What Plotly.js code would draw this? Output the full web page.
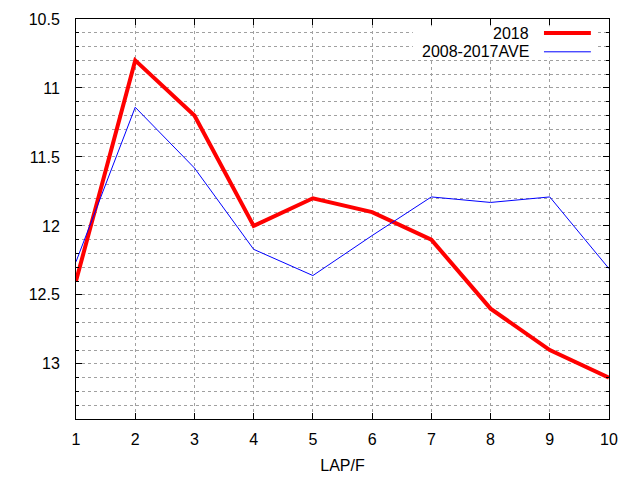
<!DOCTYPE html>
<html>
<head>
<meta charset="utf-8">
<script src="https://cdn.plot.ly/plotly-3.0.1.min.js"></script>
<style>
  body { margin: 0; background: #fff; }
  #chart { width: 640px; height: 480px; }
</style>
</head>
<body>
<div id="chart"></div>
<script>
// data
const laps = [1, 2, 3, 4, 5, 6, 7, 8, 9, 10];
const names = ['2018', '2008-2017AVE'];
const times2018 = [12.40, 10.80, 11.20, 12.00, 11.80, 11.90, 12.10, 12.60, 12.90, 13.10];
const timesAve = [12.26, 11.14, 11.58, 12.17, 12.36, 12.07, 11.79, 11.83, 11.79, 12.31];
const yTicks = [10.5, 11, 11.5, 12, 12.5, 13];

const colors = { red: '#ff0000', blue: '#0000ff', grid: '#a0a0a0' };
const font = { family: 'Liberation Sans, Arial, sans-serif', size: 16, color: '#000' };

let traces = [
  { x: laps, y: times2018, name: names[0], mode: 'lines', line: { color: colors.red, width: 4 } },
  { x: laps, y: timesAve, name: names[1], mode: 'lines', line: { color: colors.blue, width: 1 } }
];

// legend drawn by hand so the key sits right of the text, like gnuplot
let legendRows = [0.965, 0.918];
let shapes = [
  { type: 'rect', xref: 'paper', yref: 'paper', x0: 0.632, x1: 0.979, y0: 0.903, y1: 0.982,
    fillcolor: '#fff', line: { width: 0 }, layer: 'above' }
];
let annotations = [];
traces.forEach((t, i) => {
  shapes.push({ type: 'line', xref: 'paper', yref: 'paper', x0: 0.878, x1: 0.966,
    y0: legendRows[i], y1: legendRows[i], line: { color: t.line.color, width: t.line.width }, layer: 'above' });
  annotations.push({ xref: 'paper', yref: 'paper', x: 0.853, y: legendRows[i], xanchor: 'right',
    yanchor: 'middle', text: t.name, showarrow: false, font: font });
});

let layout = {
  width: 640, height: 480,
  margin: { l: 75.5, r: 30.7, t: 19, b: 60.7 },
  paper_bgcolor: '#fff', plot_bgcolor: '#fff',
  font: font,
  showlegend: false,
  xaxis: {
    range: [1, 10], tickvals: laps, ticks: 'inside', ticklen: 6, tickcolor: '#000',
    showline: true, linecolor: '#000', linewidth: 1, mirror: 'ticks',
    showgrid: true, gridcolor: colors.grid, griddash: '3px,3px', gridwidth: 1,
    zeroline: false, ticklabelstandoff: 6,
    title: { text: 'LAP/F', font: font, standoff: 12 }
  },
  yaxis: {
    range: [13.4, 10.5], tickvals: yTicks, ticktext: yTicks.map(String),
    ticks: 'inside', ticklen: 6, tickcolor: '#000',
    showline: true, linecolor: '#000', linewidth: 1, mirror: 'ticks',
    showgrid: true, gridcolor: colors.grid, griddash: '3px,3px', gridwidth: 1,
    zeroline: false, ticklabelstandoff: 12,
    minor: { dtick: 0.1, tick0: 10.5, ticks: 'inside', ticklen: 3, tickcolor: '#000',
      showgrid: true, gridcolor: colors.grid, griddash: '3px,3px', gridwidth: 1 }
  },
  shapes: shapes,
  annotations: annotations
};

Plotly.newPlot('chart', traces, layout, { staticPlot: true });
</script>
</body>
</html>
